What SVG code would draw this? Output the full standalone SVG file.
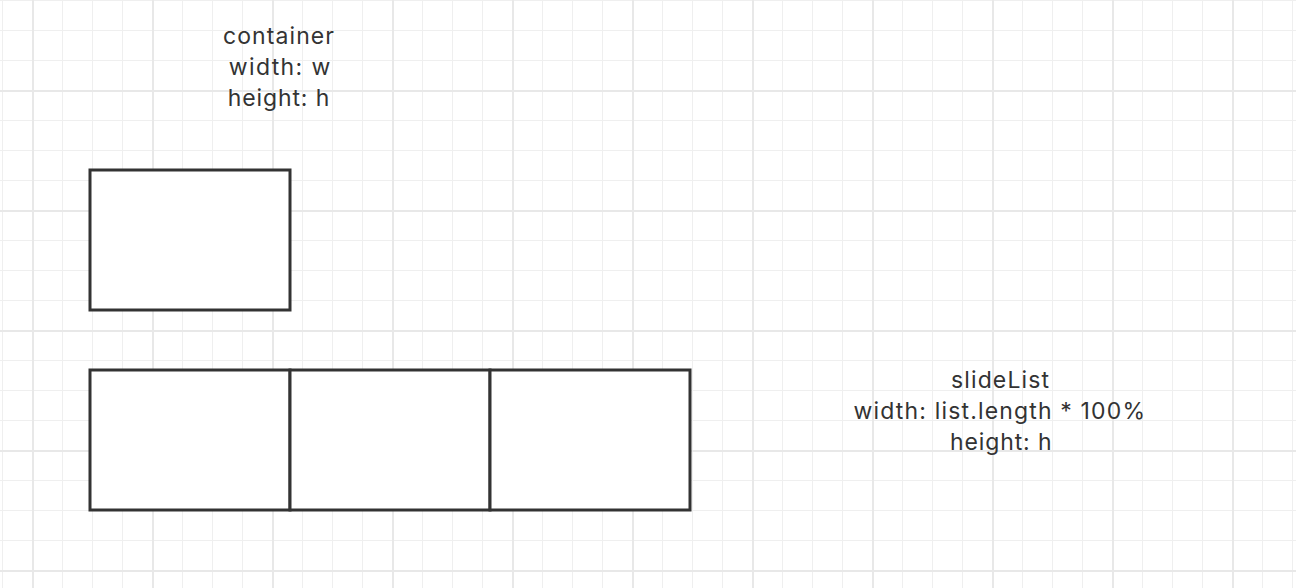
<svg xmlns="http://www.w3.org/2000/svg" width="1296" height="588" viewBox="0 0 1296 588">
  <defs>
    <pattern id="minor" patternUnits="userSpaceOnUse" x="0" y="0" width="30" height="30">
      <rect x="2" y="0" width="1" height="30" fill="#efefef"/>
      <rect x="0" y="0" width="30" height="1" fill="#efefef"/>
    </pattern>
    <pattern id="major" patternUnits="userSpaceOnUse" x="0" y="0" width="120" height="120">
      <rect x="32" y="0" width="2" height="120" fill="#e8e8e8"/>
      <rect x="0" y="90" width="120" height="2" fill="#e8e8e8"/>
    </pattern>
  </defs>
  <style>
    .box { fill: #ffffff; stroke: #333333; stroke-width: 3; }
    .lbl { font-family: Inter, "Open Sans", "Liberation Sans", sans-serif; font-size: 23px; fill: #333333; text-anchor: middle; }
  </style>
  <rect x="0" y="0" width="1296" height="588" fill="#ffffff"/>
  <rect x="0" y="0" width="1296" height="588" fill="url(#minor)"/>
  <rect x="0" y="0" width="1296" height="588" fill="url(#major)"/>

  <g id="container-label">
    <text class="lbl" x="278.5" y="44" textLength="111" lengthAdjust="spacing">container</text>
    <text class="lbl" x="279.5" y="75" textLength="101.5" lengthAdjust="spacing">width: w</text>
    <text class="lbl" x="278.5" y="106" textLength="101.5" lengthAdjust="spacing">height: h</text>
  </g>
  <g id="container">
    <rect class="box" x="90" y="170" width="200" height="140"/>
  </g>

  <g id="slide-1">
    <rect class="box" x="90" y="370" width="200" height="140"/>
  </g>
  <g id="slide-2">
    <rect class="box" x="290" y="370" width="200" height="140"/>
  </g>
  <g id="slide-3">
    <rect class="box" x="490" y="370" width="200" height="140"/>
  </g>

  <g id="slideList-label">
    <text class="lbl" x="1000" y="388" textLength="98" lengthAdjust="spacing">slideList</text>
    <text class="lbl" x="999.3" y="419" textLength="291.5" lengthAdjust="spacing">width: list.length * 100%</text>
    <text class="lbl" x="1000.8" y="450" textLength="101.5" lengthAdjust="spacing">height: h</text>
  </g>

  <g id="connectors"></g>
</svg>
